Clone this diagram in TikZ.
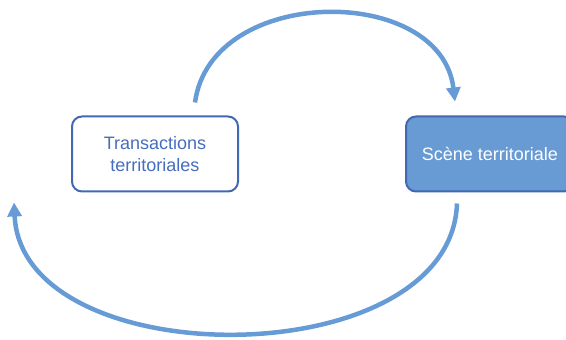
\documentclass[tikz,border=0pt]{standalone}
\usepackage{fontspec}
\setmainfont{Liberation Sans}
\usetikzlibrary{arrows.meta, positioning}

\definecolor{arcblue}{RGB}{102,155,214}
\definecolor{edgeblue}{RGB}{66,104,180}
\definecolor{fillblue}{RGB}{104,154,211}
\definecolor{textblue}{RGB}{70,110,190}

\tikzset{
  box/.style={draw=edgeblue, line width=2pt, rounded corners=10pt,
    minimum width=166pt, minimum height=75pt, align=center,
    font=\fontsize{18}{22}\selectfont},
  cycle/.style={draw=arcblue, line width=4.5pt,
    -{Triangle[width=14pt,length=14pt]}}
}

\begin{document}
\begin{tikzpicture}[x=1pt,y=1pt]
    \useasboundingbox (0,0) rectangle (566,340);
    % De twee blokken
    \node[box, fill=white, text=textblue] (transac) at (155,186)
        {Transactions\\territoriales};
    \node[box, fill=fillblue, text=white, minimum width=168pt] (scene) at (490,186)
        {Scène territoriale};
    % Bovenste boog: transacties naar scène
    \draw[cycle] ([xshift=40pt,yshift=13pt]transac.north)
        .. controls +(16,118) and +(-14,118) .. ([xshift=-35pt,yshift=14pt]scene.north);
    % Onderste boog: scène terug naar links
    \draw[cycle] ([xshift=-33pt,yshift=-11pt]scene.south)
        .. controls +(-6,-173) and +(8,-174) .. ([xshift=-141pt,yshift=-10pt]transac.south);
\end{tikzpicture}
\end{document}
